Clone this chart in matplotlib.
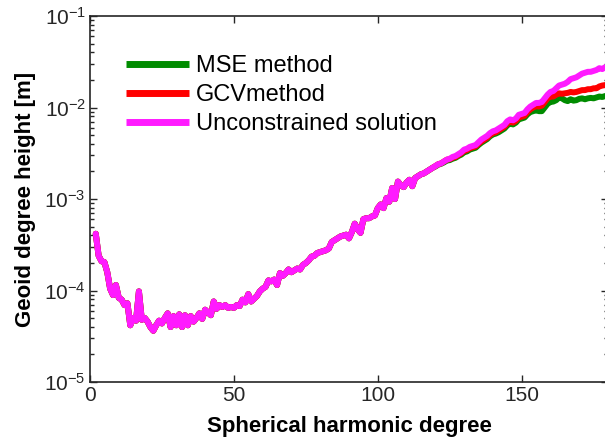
import matplotlib
matplotlib.use("Agg")
import matplotlib.pyplot as plt
import numpy as np
from matplotlib.ticker import FixedLocator, LogLocator, NullFormatter

plt.rcParams['font.family'] = ['Liberation Sans', 'DejaVu Sans']
plt.rcParams['mathtext.fontset'] = 'custom'
plt.rcParams['mathtext.rm'] = 'Liberation Sans'
plt.rcParams['mathtext.it'] = 'Liberation Sans'
plt.rcParams['mathtext.bf'] = 'Liberation Sans:bold'

# spherical harmonic degrees
degrees = list(range(2, 181))

# log10 of geoid degree height [m], unconstrained solution, degree 2..180
unconstrained_log10 = [
    -3.38, -3.62, -3.68, -3.69, -3.80, -3.98, -4.05, -3.94, -4.08,            # 2-10
    -4.10, -4.16, -4.14, -4.38, -4.30, -4.33, -4.01, -4.32, -4.30, -4.34,    # 11-20
    -4.40, -4.44, -4.38, -4.33, -4.36, -4.30, -4.25, -4.40, -4.28, -4.38,    # 21-30
    -4.26, -4.40, -4.27, -4.38, -4.28, -4.34, -4.30, -4.25, -4.31, -4.21,    # 31-40
    -4.24, -4.27, -4.12, -4.20, -4.16, -4.18, -4.16, -4.19, -4.18, -4.19,    # 41-50
    -4.16, -4.17, -4.10, -4.13, -4.04, -4.12, -4.09, -4.06, -4.01, -3.98,    # 51-60
    -3.96, -3.89, -3.90, -3.88, -3.94, -3.81, -3.84, -3.81, -3.77, -3.80,    # 61-70
    -3.78, -3.76, -3.77, -3.72, -3.70, -3.67, -3.63, -3.62, -3.59, -3.58,    # 71-80
    -3.57, -3.56, -3.54, -3.47, -3.45, -3.43, -3.41, -3.40, -3.39, -3.43,    # 81-90
    -3.36, -3.27, -3.33, -3.37, -3.22, -3.21, -3.21, -3.19, -3.18, -3.10,    # 91-100
    -3.06, -3.10, -2.99, -3.03, -2.88, -3.00, -2.81, -2.85, -2.87, -2.82,    # 101-110
    -2.79, -2.86, -2.77, -2.75, -2.73, -2.72, -2.70, -2.68, -2.66, -2.64,    # 111-120
    -2.62, -2.61, -2.59, -2.57, -2.56, -2.54, -2.53, -2.51, -2.49, -2.46,    # 121-130
    -2.45, -2.43, -2.42, -2.41, -2.38, -2.35, -2.33, -2.31, -2.28, -2.26,    # 131-140
    -2.25, -2.23, -2.21, -2.19, -2.15, -2.13, -2.14, -2.12, -2.08, -2.07,    # 141-150
    -2.06, -2.02, -1.99, -1.97, -1.95, -1.95, -1.94, -1.90, -1.86, -1.83,    # 151-160
    -1.82, -1.79, -1.76, -1.75, -1.74, -1.72, -1.69, -1.68, -1.67, -1.65,    # 161-170
    -1.63, -1.62, -1.61, -1.61, -1.60, -1.59, -1.57, -1.58, -1.56, -1.56,    # 171-180
]

# GCV method: identical to unconstrained below degree 120, tail 120..180
gcv_tail_log10 = [
    -2.64, -2.62, -2.61, -2.59, -2.57, -2.565, -2.55, -2.54, -2.52, -2.50,
    -2.475, -2.465, -2.445, -2.435, -2.425, -2.395, -2.37, -2.35, -2.33, -2.30,
    -2.28, -2.27, -2.25, -2.23, -2.21, -2.175, -2.155, -2.165, -2.145, -2.11,
    -2.10, -2.09, -2.05, -2.02, -2.00, -1.985, -1.99, -1.98, -1.94, -1.90,
    -1.88, -1.88, -1.86, -1.845, -1.85, -1.845, -1.84, -1.83, -1.835, -1.83,
    -1.82, -1.81, -1.81, -1.80, -1.80, -1.79, -1.79, -1.77, -1.76, -1.755,
    -1.75,
]

# MSE method: tail 120..180
mse_tail_log10 = [
    -2.645, -2.625, -2.615, -2.60, -2.58, -2.575, -2.56, -2.55, -2.53, -2.515,
    -2.49, -2.48, -2.46, -2.45, -2.44, -2.41, -2.385, -2.365, -2.345, -2.315,
    -2.295, -2.285, -2.27, -2.25, -2.23, -2.195, -2.175, -2.185, -2.165, -2.13,
    -2.12, -2.11, -2.075, -2.05, -2.04, -2.03, -2.04, -2.04, -2.00, -1.96,
    -1.94, -1.935, -1.92, -1.89, -1.90, -1.92, -1.93, -1.91, -1.925, -1.92,
    -1.905, -1.90, -1.91, -1.90, -1.895, -1.90, -1.89, -1.88, -1.885, -1.875,
    -1.87,
]

n_head = 120 - 2
gcv_log10 = unconstrained_log10[:n_head] + gcv_tail_log10
mse_log10 = unconstrained_log10[:n_head] + mse_tail_log10

series_labels = ["MSE method", "GCVmethod", "Unconstrained solution"]
series_colors = ["#008c00", "#ff0000", "#ff1aff"]

x_ticks = [0, 50, 100, 150]
y_ticks = [1e-5, 1e-4, 1e-3, 1e-2, 1e-1]
y_ticklabels = [r"$\mathregular{10^{-5}}$", r"$\mathregular{10^{-4}}$", r"$\mathregular{10^{-3}}$",
                r"$\mathregular{10^{-2}}$", r"$\mathregular{10^{-1}}$"]

W, H = 605, 437
fig = plt.figure(figsize=(W / 100, H / 100), dpi=100)
ax = fig.add_axes([90 / W, 55 / H, 518 / W, 366 / H])

deg = np.array(degrees)
for vals, lab, col in zip([mse_log10, gcv_log10, unconstrained_log10], series_labels, series_colors):
    ax.plot(deg, np.power(10.0, np.array(vals)), color=col, lw=4.3, label=lab,
            solid_joinstyle='round', solid_capstyle='round')

ax.set_yscale('log')
ax.set_xlim(0, 180)
ax.set_ylim(1e-5, 1e-1)
ax.set_xticks(x_ticks)
ax.set_xticklabels([str(t) for t in x_ticks])
ax.yaxis.set_major_locator(FixedLocator(y_ticks))
ax.set_yticklabels(y_ticklabels)
ax.yaxis.set_minor_locator(LogLocator(base=10, subs=np.arange(2, 10)))
ax.yaxis.set_minor_formatter(NullFormatter())

dark = "#262626"
for s in ax.spines.values():
    s.set_color(dark)
    s.set_linewidth(1.2)
ax.tick_params(which='both', direction='in', top=True, right=True, colors=dark,
               labelcolor=dark, width=1.0)
ax.tick_params(which='major', length=5, labelsize=15, pad=3)
ax.tick_params(which='minor', length=3)

ax.set_xlabel("Spherical harmonic degree", fontsize=16, fontweight='bold', color='black', labelpad=8)
ax.set_ylabel("Geoid degree height [m]", fontsize=16, fontweight='bold', color='black', labelpad=6)

leg = ax.legend(loc='upper left', bbox_to_anchor=(0.0695, 0.894), frameon=False, fontsize=17,
                handlelength=2.67, handletextpad=0.3, labelspacing=0.3, borderaxespad=0,
                borderpad=0)
for l in leg.get_lines():
    l.set_linewidth(5)
    l.set_solid_capstyle('butt')

fig.savefig("out.png", dpi=100)
